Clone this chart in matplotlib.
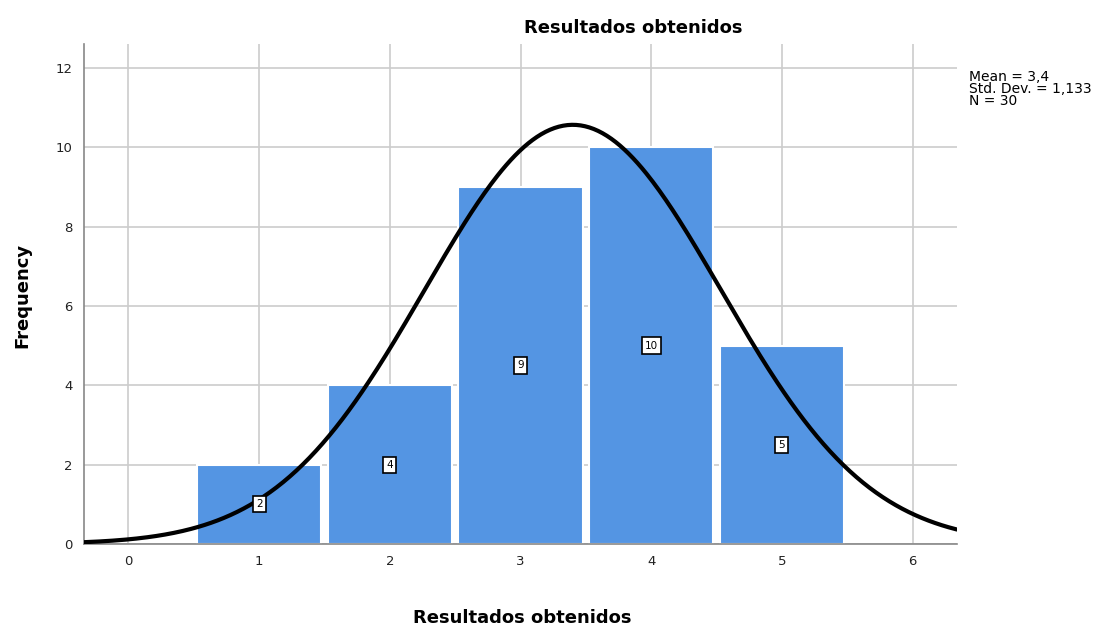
import numpy as np
import matplotlib
matplotlib.use("Agg")
import matplotlib.pyplot as plt

# Frequencies of each score
scores = [1, 2, 3, 4, 5]
counts = [2, 4, 9, 10, 5]
mean_val = 3.4
std_val = 1.133
n_total = 30

x_ticks = [0, 1, 2, 3, 4, 5, 6]
y_ticks = [0, 2, 4, 6, 8, 10, 12]

plt.rcParams['font.family'] = ['DejaVu Sans']

fig = plt.figure(figsize=(11.10, 6.27), dpi=100)
ax = fig.add_axes([84 / 1110, 1 - 544 / 627, (957 - 84) / 1110, (544 - 44) / 627])

bar_color = '#5495e3'
ax.bar(scores, counts, width=0.95, color=bar_color, edgecolor='white', linewidth=1.5, zorder=2)

# Normal curve scaled to the histogram (bin width 1)
xs = np.linspace(-0.34, 6.34, 400)
pdf = n_total * np.exp(-0.5 * ((xs - mean_val) / std_val) ** 2) / (std_val * np.sqrt(2 * np.pi))
ax.plot(xs, pdf, color='black', linewidth=3, zorder=4, solid_capstyle='round')

# Count labels at mid-height of each bar
for s, c in zip(scores, counts):
    ax.text(s, c / 2, str(c), ha='center', va='center', fontsize=7.5, zorder=5,
            bbox=dict(boxstyle='square,pad=0.3', facecolor='white', edgecolor='black', linewidth=1.2))

ax.set_xlim(-0.34, 6.34)
ax.set_ylim(0, 12.6)
ax.set_xticks(x_ticks)
ax.set_yticks(y_ticks)
ax.tick_params(length=0, labelsize=9.5, colors='#222222', pad=8)
ax.grid(True, color='#cccccc', linewidth=1.2, zorder=0)
ax.set_axisbelow(True)
for side in ['top', 'right']:
    ax.spines[side].set_visible(False)
for side in ['left', 'bottom']:
    ax.spines[side].set_color('#888888')
    ax.spines[side].set_linewidth(1.2)

fig.text(633 / 1110, 1 - 28 / 627, 'Resultados obtenidos', ha='center', va='center',
         fontsize=13, fontweight='bold')
fig.text(522 / 1110, 1 - 618 / 627, 'Resultados obtenidos', ha='center', va='center',
         fontsize=13, fontweight='bold')
fig.text(22 / 1110, 1 - 295 / 627, 'Frequency', ha='center', va='center', rotation=90,
         fontsize=13, fontweight='bold')

mean_txt = f"{mean_val:.1f}".replace('.', ',')
std_txt = f"{std_val:.3f}".replace('.', ',')
stats = f"Mean = {mean_txt}\nStd. Dev. = {std_txt}\nN = {n_total}"
fig.text(969 / 1110, 1 - 70 / 627, stats, ha='left', va='top', fontsize=10, linespacing=0.8)

fig.savefig('out.png', dpi=100)
